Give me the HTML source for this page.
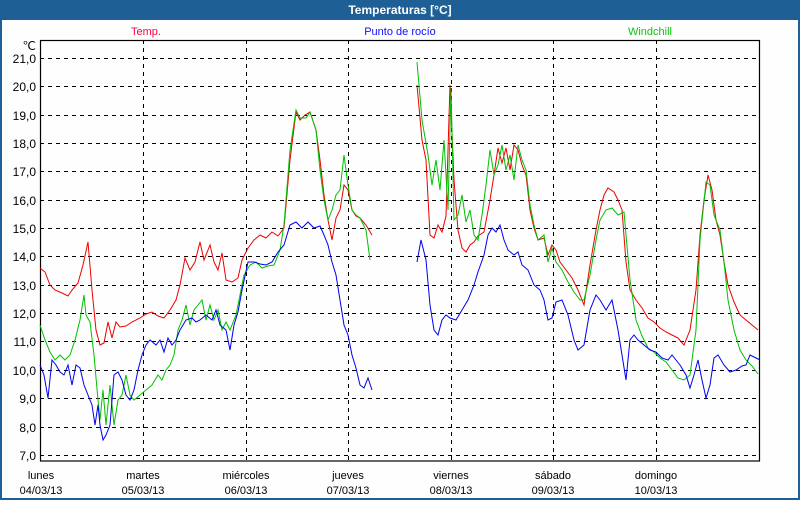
<!DOCTYPE html>
<html><head><meta charset="utf-8"><style>
body{margin:0;width:800px;height:500px;overflow:hidden;background:#fff;font-family:"Liberation Sans",sans-serif}
</style></head><body>
<svg width="800" height="500" xmlns="http://www.w3.org/2000/svg" font-family="Liberation Sans, sans-serif" font-size="11">
<rect x="0" y="0" width="800" height="500" fill="#1e6096"/>
<rect x="2" y="20" width="796" height="478" fill="#fdfefd"/>
<text x="400" y="14" fill="#fff" font-weight="bold" font-size="12" text-anchor="middle">Temperaturas [°C]</text>
<text x="146" y="35" fill="#ff0040" text-anchor="middle">Temp.</text>
<text x="400" y="35" fill="#1010ff" text-anchor="middle">Punto de rocío</text>
<text x="650" y="35" fill="#10c010" text-anchor="middle">Windchill</text>
<g stroke="#000" stroke-dasharray="4,4" stroke-width="1">
<line x1="40" y1="58.5" x2="760" y2="58.5"/><line x1="40" y1="86.5" x2="760" y2="86.5"/><line x1="40" y1="115.5" x2="760" y2="115.5"/><line x1="40" y1="143.5" x2="760" y2="143.5"/><line x1="40" y1="171.5" x2="760" y2="171.5"/><line x1="40" y1="200.5" x2="760" y2="200.5"/><line x1="40" y1="228.5" x2="760" y2="228.5"/><line x1="40" y1="256.5" x2="760" y2="256.5"/><line x1="40" y1="285.5" x2="760" y2="285.5"/><line x1="40" y1="313.5" x2="760" y2="313.5"/><line x1="40" y1="341.5" x2="760" y2="341.5"/><line x1="40" y1="370.5" x2="760" y2="370.5"/><line x1="40" y1="398.5" x2="760" y2="398.5"/><line x1="40" y1="427.5" x2="760" y2="427.5"/><line x1="40" y1="455.5" x2="760" y2="455.5"/>
<line x1="143.5" y1="40" x2="143.5" y2="461"/><line x1="246.5" y1="40" x2="246.5" y2="461"/><line x1="348.5" y1="40" x2="348.5" y2="461"/><line x1="451.5" y1="40" x2="451.5" y2="461"/><line x1="553.5" y1="40" x2="553.5" y2="461"/><line x1="656.5" y1="40" x2="656.5" y2="461"/>
</g>
<rect x="40.5" y="40.5" width="719" height="420.5" fill="none" stroke="#000" stroke-width="1.2"/>
<g fill="#000" text-anchor="end" font-size="12">
<text x="36" y="50">℃</text>
<text x="36" y="63">21,0</text><text x="36" y="91">20,0</text><text x="36" y="120">19,0</text><text x="36" y="148">18,0</text><text x="36" y="176">17,0</text><text x="36" y="205">16,0</text><text x="36" y="233">15,0</text><text x="36" y="261">14,0</text><text x="36" y="290">13,0</text><text x="36" y="318">12,0</text><text x="36" y="346">11,0</text><text x="36" y="375">10,0</text><text x="36" y="403">9,0</text><text x="36" y="432">8,0</text><text x="36" y="460">7,0</text>
</g>
<g fill="#000" text-anchor="middle" font-size="11">
<text x="41" y="479">lunes</text><text x="41" y="494">04/03/13</text>
<text x="143" y="479">martes</text><text x="143" y="494">05/03/13</text>
<text x="246" y="479">miércoles</text><text x="246" y="494">06/03/13</text>
<text x="348" y="479">jueves</text><text x="348" y="494">07/03/13</text>
<text x="451" y="479">viernes</text><text x="451" y="494">08/03/13</text>
<text x="553" y="479">sábado</text><text x="553" y="494">09/03/13</text>
<text x="656" y="479">domingo</text><text x="656" y="494">10/03/13</text>
</g>
<g fill="none" stroke-width="1">
<polyline stroke="#ee0000" points="40,268 45,272 50,285 55,290 62,293 68,296 72,290 78,283 83,265 88,242 92,290 96,330 100,345 104,343 108,322 112,338 116,322 120,327 126,326 132,322 140,318 146,314 152,312 158,316 164,318 170,310 176,300 180,285 185,258 190,270 195,262 200,242 204,260 210,245 214,262 218,270 222,253 226,280 232,282 238,278 242,260 248,248 254,240 260,235 266,238 272,232 278,236 284,228 290,160 296,112 300,120 305,115 310,112 316,130 320,160 324,195 328,220 332,240 336,218 340,210 344,185 348,190 352,210 356,216 360,218 366,225 372,235"/>
<polyline stroke="#ee0000" points="417,85 422,140 426,160 430,235 434,238 438,225 442,232 446,216 450,85 454,180 458,230 462,248 466,252 470,245 474,242 478,236 484,232 490,200 494,175 498,148 502,163 506,148 510,170 514,145 518,150 522,165 526,175 530,210 534,228 538,240 544,238 548,255 552,245 556,250 560,262 566,270 572,278 578,290 584,305 590,265 596,230 600,210 604,195 608,188 614,192 618,200 622,210 626,262 630,290 636,300 642,308 648,318 654,322 660,328 666,332 672,335 678,338 684,345 690,330 696,290 700,235 704,200 708,175 712,190 716,220 720,235 724,262 728,285 734,302 740,315 746,320 752,325 758,330"/>
<polyline stroke="#00c000" points="40,325 45,340 50,352 55,360 60,355 65,360 70,355 75,340 80,320 84,295 86,315 90,322 94,355 98,400 100,420 103,390 106,425 110,385 114,425 118,400 122,395 126,375 130,395 134,400 140,395 146,390 152,385 158,375 162,380 166,370 170,365 174,355 178,330 182,320 186,305 190,325 194,310 198,305 202,300 206,320 210,305 214,320 218,310 222,330 226,322 230,330 236,315 240,295 244,275 250,265 256,262 262,268 268,266 274,265 280,250 284,225 290,150 296,110 300,118 306,118 310,112 316,130 320,170 324,200 328,220 332,210 336,195 340,190 344,155 348,185 352,210 356,215 360,218 366,230 370,260"/>
<polyline stroke="#00c000" points="417,62 422,120 428,155 432,185 436,160 440,190 444,140 448,210 451,88 454,220 458,215 462,195 466,222 470,210 474,235 478,240 482,215 486,185 490,150 494,175 498,165 502,145 506,170 510,155 514,180 518,145 522,160 526,170 530,205 534,225 538,240 544,235 548,262 552,248 556,262 562,270 568,282 574,292 580,300 584,300 590,275 596,240 600,220 606,210 612,208 618,215 624,212 630,280 636,320 642,336 648,348 654,352 660,358 666,362 672,370 678,378 684,380 690,375 696,330 700,240 706,182 710,185 714,215 720,230 724,262 728,300 734,330 740,350 746,360 752,366 758,374"/>
<polyline stroke="#0000ee" points="40,365 44,375 48,398 52,360 56,365 60,372 64,375 68,365 72,385 76,365 80,368 84,385 88,395 92,405 95,425 98,405 100,425 103,440 106,435 110,425 114,375 118,372 122,380 126,395 130,400 134,390 138,370 142,355 146,345 150,340 156,345 160,340 164,352 168,338 172,345 176,340 180,330 186,320 192,318 196,322 200,320 206,315 212,320 216,310 220,325 226,330 230,350 234,325 238,312 242,290 248,262 254,262 260,264 266,265 272,262 278,252 284,245 290,225 296,222 302,228 308,222 314,228 320,226 324,235 328,245 332,262 336,275 340,300 344,325 348,335 352,355 356,368 360,385 364,388 368,378 372,390"/>
<polyline stroke="#0000ee" points="417,262 421,240 426,260 430,305 434,330 438,335 442,320 446,315 450,318 456,320 462,310 468,300 474,285 478,272 484,255 488,235 492,228 496,232 500,225 504,240 508,250 514,255 518,252 522,265 528,270 534,285 540,290 544,300 548,320 552,318 556,302 562,300 568,315 574,340 578,350 584,345 590,310 596,295 600,300 606,310 612,300 618,330 622,355 626,380 630,340 634,335 638,340 644,345 650,350 656,352 662,358 668,360 672,355 676,360 680,365 686,375 690,388 694,375 698,360 702,380 706,398 710,385 714,358 718,355 724,365 730,372 736,370 742,366 746,365 750,355 756,358 760,360"/>
</g>
</svg>
</body></html>
